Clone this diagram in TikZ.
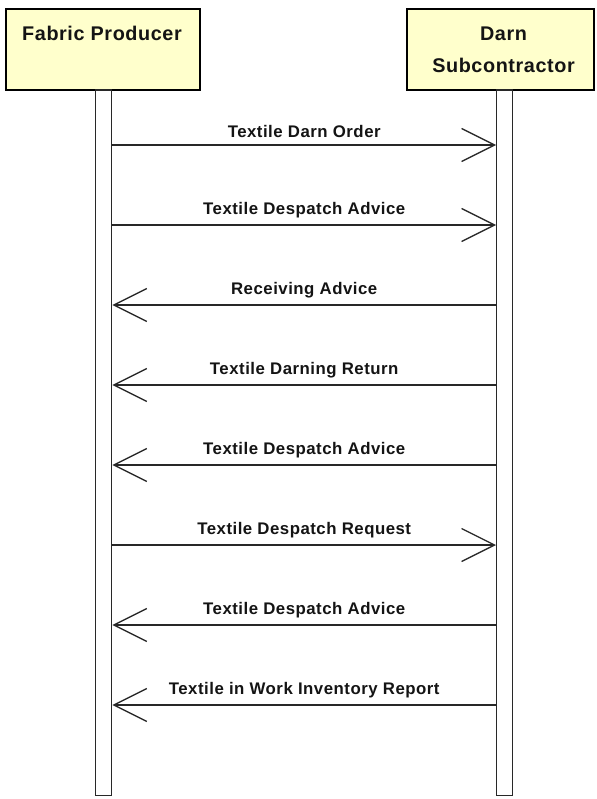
\documentclass[tikz,border=0pt]{standalone}
\usepackage{fontspec}
\setmainfont{Liberation Sans}[LetterSpace=3]
\usetikzlibrary{arrows.meta}
\definecolor{headfill}{RGB}{255,255,204}
\definecolor{ink}{RGB}{40,40,40}
\begin{document}
\begin{tikzpicture}[x=1pt,y=-1pt,
  actor/.style={draw=black,line width=2pt,fill=headfill,anchor=north west,inner sep=0pt},
  lifeline/.style={draw=ink,line width=1.4pt,fill=white,anchor=north west,inner sep=0pt,minimum width=16pt},
  headtext/.style={font=\bfseries\fontsize{19.8}{32}\selectfont,text=black!92,anchor=base},
  msgtext/.style={font=\bfseries\fontsize{16.8}{20}\selectfont,text=black!92,anchor=base},
  msg/.style={draw=ink,line width=1.3pt,-{Straight Barb[length=33pt,width=33pt,line width=1.3pt]}}]
\useasboundingbox (0,0) rectangle (596,799);
% actor boxes
\node[actor,minimum width=194pt,minimum height=81pt] (prodbox) at (5,8.5) {};
\node[actor,minimum width=187pt,minimum height=81pt] (subbox) at (406,8.5) {};
\node[headtext] (prodname) at (102,41) {Fabric Producer};
\node[headtext] (subname1) at (503.5,41) {Darn};
\node[headtext] (subname2) at (503.5,73) {Subcontractor};
% lifelines
\node[lifeline,minimum height=705pt] (prodlife) at (95,89.5) {};
\node[lifeline,minimum height=705pt] (sublife) at (496,89.5) {};
% message end points
\foreach \i/\y in {1/145,2/225,3/305,4/385,5/465,6/545,7/625,8/705}{
  \coordinate (p\i) at (prodlife.east |- 0,\y);
  \coordinate (s\i) at (sublife.west |- 0,\y);
}
% messages
\draw[msg] (p1) -- node[msgtext,above=3pt] (m1) {Textile Darn Order} (s1);
\draw[msg] (p2) -- node[msgtext,above=3pt] (m2) {Textile Despatch Advice} (s2);
\draw[msg] (s3) -- node[msgtext,above=3pt] (m3) {Receiving Advice} (p3);
\draw[msg] (s4) -- node[msgtext,above=3pt] (m4) {Textile Darning Return} (p4);
\draw[msg] (s5) -- node[msgtext,above=3pt] (m5) {Textile Despatch Advice} (p5);
\draw[msg] (p6) -- node[msgtext,above=3pt] (m6) {Textile Despatch Request} (s6);
\draw[msg] (s7) -- node[msgtext,above=3pt] (m7) {Textile Despatch Advice} (p7);
\draw[msg] (s8) -- node[msgtext,above=3pt] (m8) {Textile in Work Inventory Report} (p8);
\end{tikzpicture}
\end{document}
